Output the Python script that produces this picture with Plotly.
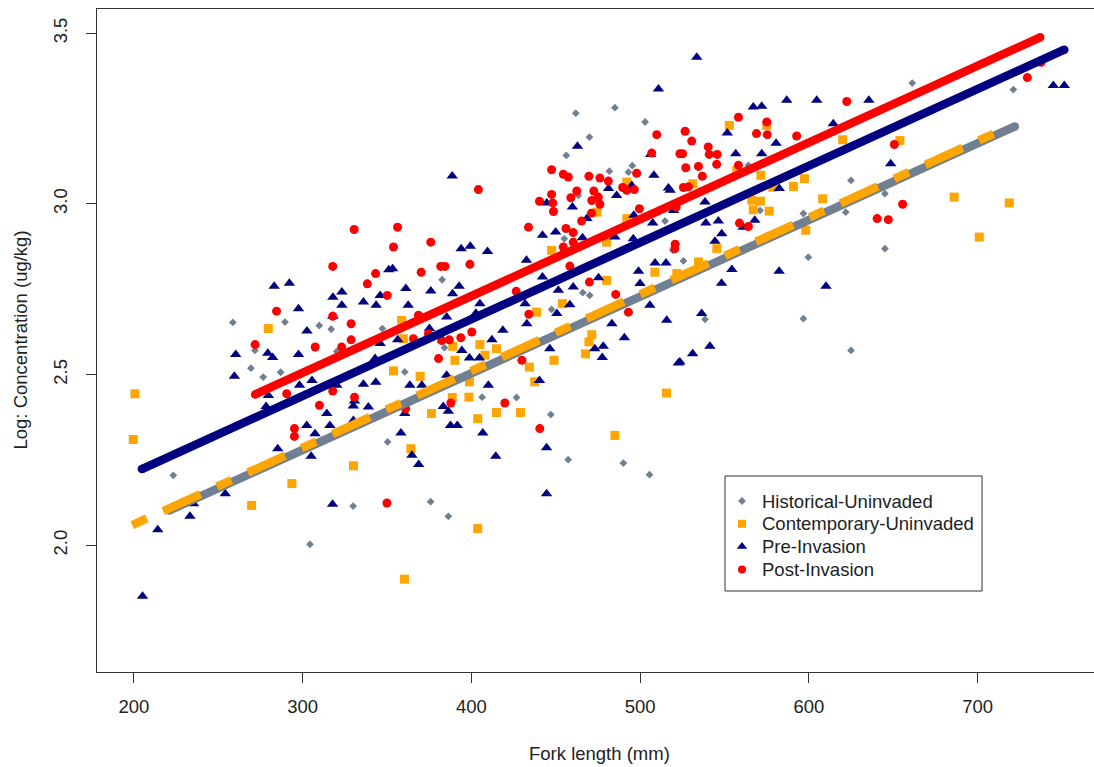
import plotly.graph_objects as go

# ---------------- data ----------------
hist_x = [258.6, 289.5, 309.8, 316.9, 271.7, 269.3, 276.6, 286.9, 320.2, 347.2, 350.3, 223.3, 304.3,
          329.9, 375.8, 386.3, 382.6, 384.0, 360.5, 406.3, 426.7, 447.5, 447.0, 457.3, 490.0, 505.5,
          470.1, 466.0, 461.8, 485.0, 469.9, 456.2, 502.9, 481.7, 493.0, 495.3, 463.3, 455.0, 514.7,
          661.2, 721.1, 624.9, 645.0, 621.8, 596.7, 571.0, 645.0, 564.1, 525.6, 599.6, 538.4, 596.7,
          624.9, 519.3]
hist_y = [2.653, 2.654, 2.644, 2.633, 2.571, 2.519, 2.493, 2.507, 2.568, 2.635, 2.303, 2.205, 2.003,
          2.115, 2.128, 2.085, 2.778, 2.579, 2.508, 2.434, 2.433, 2.691, 2.383, 2.251, 2.241, 2.207,
          2.732, 2.740, 3.266, 3.282, 3.196, 3.142, 3.240, 3.096, 3.093, 3.112, 3.025, 2.898, 2.950,
          3.354, 3.335, 3.069, 3.030, 2.976, 2.972, 2.981, 2.869, 3.113, 2.833, 2.844, 2.662, 2.664,
          2.571, 2.864]

cont_x = [200.6, 199.6, 279.6, 330.1, 293.6, 269.7, 403.7, 360.3, 358.6, 359.6, 353.8, 369.6, 388.9,
          390.2, 405.0, 408.0, 414.8, 398.5, 376.3, 403.7, 414.8, 429.0, 388.6, 364.1, 398.8, 434.3,
          448.9, 437.5, 438.6, 453.9, 471.3, 469.6, 467.6, 480.1, 508.7, 515.6, 485.0, 492.1, 474.3,
          492.1, 480.1, 447.5, 552.8, 575.0, 620.0, 653.9, 557.2, 571.5, 597.3, 578.5, 590.8, 566.1,
          571.3, 576.4, 567.0, 608.1, 686.0, 718.7, 700.9, 598.1, 545.4, 531.2, 534.5, 521.7]
cont_y = [2.444, 2.310, 2.635, 2.233, 2.181, 2.117, 2.049, 1.901, 2.659, 2.605, 2.511, 2.495, 2.583,
          2.542, 2.588, 2.557, 2.576, 2.434, 2.386, 2.371, 2.389, 2.389, 2.433, 2.283, 2.479, 2.522,
          2.542, 2.479, 2.683, 2.708, 2.617, 2.596, 2.561, 2.776, 2.800, 2.446, 2.322, 3.064, 2.976,
          2.957, 2.888, 2.864, 3.230, 3.230, 3.188, 3.186, 3.098, 3.084, 3.074, 3.049, 3.051, 3.011,
          3.008, 2.979, 2.983, 3.015, 3.020, 3.003, 2.903, 2.923, 2.869, 3.059, 2.830, 2.796]

pre_x = [283.1, 292.1, 297.5, 317.9, 323.2, 323.2, 336.0, 343.5, 345.9, 302.5, 317.9, 260.3, 259.5,
         279.3, 282.2, 297.5, 279.7, 278.3, 298.1, 305.5, 314.3, 302.4, 307.3, 285.2, 305.0, 316.1,
         330.0, 330.7, 330.0, 338.9, 343.3, 336.0, 320.2, 342.9, 345.9, 351.0, 214.1, 205.1, 233.2,
         235.3, 254.1, 317.7, 444.5, 393.9, 399.3, 409.5, 353.3, 361.1, 375.9, 388.8, 392.7, 362.5,
         385.3, 356.3, 375.1, 383.0, 394.3, 398.8, 404.7, 412.1, 418.6, 402.6, 405.0, 432.8, 431.8,
         450.6, 458.3, 460.3, 451.5, 446.4, 475.3, 499.0, 508.8, 515.3, 499.9, 505.7, 515.7, 483.2,
         490.6, 473.1, 478.1, 477.5, 522.6, 440.3, 363.5, 370.6, 385.3, 410.0, 383.3, 386.3, 360.5,
         387.6, 391.6, 406.7, 358.2, 364.7, 368.7, 414.4, 444.5, 432.6, 442.1, 510.8, 462.8, 388.6,
         444.6, 459.8, 468.4, 481.2, 495.0, 506.2, 508.1, 516.7, 496.2, 442.1, 449.9, 465.8, 485.0,
         495.9, 507.4, 519.7, 486.0, 533.5, 567.0, 572.0, 586.8, 604.6, 635.5, 614.4, 551.6, 580.5,
         556.6, 572.0, 648.4, 582.4, 538.4, 546.3, 538.9, 561.0, 567.9, 548.3, 544.3, 517.7, 744.8,
         751.3, 554.3, 582.3, 610.1, 548.2, 536.4, 541.3, 531.1, 523.5]
pre_y = [2.759, 2.768, 2.693, 2.727, 2.742, 2.703, 2.713, 2.703, 2.732, 2.628, 2.671, 2.559, 2.495,
         2.563, 2.550, 2.559, 2.439, 2.407, 2.469, 2.483, 2.386, 2.351, 2.327, 2.283, 2.261, 2.351,
         2.408, 2.423, 2.366, 2.405, 2.478, 2.472, 2.469, 2.547, 2.591, 2.807, 2.046, 1.851, 2.085,
         2.122, 2.151, 2.120, 2.151, 2.869, 2.876, 2.861, 2.810, 2.752, 2.745, 2.737, 2.759, 2.703,
         2.669, 2.602, 2.635, 2.600, 2.571, 2.549, 2.549, 2.602, 2.630, 2.680, 2.708, 2.649, 2.708,
         2.679, 2.705, 2.757, 2.747, 2.576, 2.784, 2.803, 2.827, 2.827, 2.767, 2.703, 2.659, 2.649,
         2.608, 2.576, 2.583, 2.550, 2.534, 2.483, 2.469, 2.469, 2.498, 2.469, 2.407, 2.393, 2.386,
         2.351, 2.351, 2.329, 2.329, 2.264, 2.237, 2.261, 2.286, 2.835, 2.786, 3.337, 3.169, 3.082,
         3.003, 2.991, 2.957, 3.045, 3.054, 3.145, 3.084, 3.047, 2.967, 2.908, 2.918, 2.901, 2.903,
         2.898, 2.944, 2.981, 3.025, 3.430, 3.284, 3.286, 3.304, 3.304, 3.304, 3.235, 3.208, 3.178,
         3.147, 3.147, 3.118, 3.045, 3.006, 2.950, 2.944, 2.932, 2.952, 2.913, 2.891, 3.040, 3.347,
         3.347, 2.808, 2.803, 2.759, 2.768, 2.679, 2.583, 2.561, 2.537]

post_x = [317.8, 343.2, 338.3, 350.1, 284.5, 317.8, 328.7, 328.7, 323.1, 307.4, 271.8, 290.5, 317.8,
          309.9, 330.7, 295.1, 295.1, 349.9, 404.1, 356.2, 375.9, 353.8, 433.8, 447.5, 454.4, 457.4,
          469.6, 476.1, 481.1, 497.9, 489.6, 492.0, 496.5, 509.8, 506.8, 523.5, 447.5, 462.4, 458.9,
          472.5, 475.2, 471.3, 476.1, 440.3, 448.2, 448.6, 471.1, 465.3, 499.5, 456.0, 460.3, 460.3,
          381.8, 384.3, 399.1, 370.2, 454.4, 458.3, 426.5, 469.9, 485.5, 368.6, 365.6, 374.5, 382.4,
          386.9, 393.7, 400.2, 380.5, 434.0, 429.9, 387.8, 419.8, 440.5, 493.0, 520.5, 361.0, 558.2,
          575.0, 526.6, 530.5, 568.9, 575.3, 592.7, 622.4, 525.1, 540.3, 540.9, 545.6, 545.3, 527.0,
          534.5, 536.8, 558.2, 525.6, 528.6, 521.3, 558.8, 564.1, 650.6, 655.5, 640.4, 647.0, 729.4,
          520.7, 330.5, 737.5]
post_y = [2.817, 2.796, 2.766, 2.732, 2.686, 2.671, 2.649, 2.602, 2.581, 2.581, 2.588, 2.444, 2.452,
          2.410, 2.434, 2.342, 2.319, 2.124, 3.042, 2.932, 2.888, 2.874, 2.932, 3.100, 3.087, 3.079,
          3.081, 3.076, 3.067, 3.090, 3.048, 3.040, 3.042, 3.203, 3.149, 3.147, 3.028, 3.038, 3.018,
          3.038, 3.020, 3.010, 2.999, 3.008, 3.003, 2.978, 2.973, 2.950, 2.986, 2.928, 2.916, 2.888,
          2.817, 2.817, 2.823, 2.800, 2.874, 2.818, 2.744, 2.771, 2.735, 2.674, 2.605, 2.620, 2.600,
          2.602, 2.608, 2.625, 2.547, 2.677, 2.542, 2.417, 2.417, 2.342, 2.683, 2.869, 2.400, 3.254,
          3.240, 3.213, 3.184, 3.206, 3.203, 3.199, 3.300, 3.147, 3.167, 3.145, 3.145, 3.116, 3.106,
          3.110, 3.081, 3.113, 3.048, 3.050, 2.991, 2.944, 2.934, 3.174, 2.999, 2.957, 2.954, 3.370,
          2.882, 2.925, 3.415]

group_names = ["Historical-Uninvaded", "Contemporary-Uninvaded", "Pre-Invasion", "Post-Invasion"]
group_colors = ["#708090", "#FFA500", "#000080", "#FF0000"]
group_symbols = ["diamond", "square", "triangle-up", "circle"]

# fitted regression lines (intercept, slope) and x extent of each fit
fit_intercept = [1.6061, 1.6123, 1.7634, 1.8309]
fit_slope = [0.002245, 0.002246, 0.0022475, 0.0022485]
fit_x_start = [221.0, 199.0, 204.7, 271.8]
fit_x_end = [722.0, 712.0, 751.3, 737.0]

x_ticks = [200, 300, 400, 500, 600, 700]
y_ticks = [2.0, 2.5, 3.0, 3.5]
y_tick_text = ["2.0", "2.5", "3.0", "3.5"]

# ---------------- figure ----------------
FONT = "Liberation Sans, Arial, sans-serif"
TXT = "#222222"
W, H = 1094, 767
ML, MR, MT, MB = 97, 0, 9, 95
fig = go.Figure()

xs = [hist_x, cont_x, pre_x, post_x]
ys = [hist_y, cont_y, pre_y, post_y]
msize = [6, 9, 10, 9]
for i in range(4):
    fig.add_trace(go.Scatter(
        x=xs[i], y=ys[i], mode="markers", name=group_names[i], showlegend=False,
        marker=dict(color=group_colors[i], symbol=group_symbols[i], size=msize[i],
                    line=dict(width=0)),
    ))

dashes = ["solid", "16px,18px,41px,18px", "solid", "solid"]
for i in range(4):
    lx = [fit_x_start[i], fit_x_end[i]]
    ly = [fit_intercept[i] + fit_slope[i] * v for v in lx]
    if dashes[i] == "solid":
        fig.add_trace(go.Scatter(
            x=lx, y=ly, mode="lines+markers", showlegend=False, hoverinfo="skip",
            line=dict(color=group_colors[i], width=8.5),
            marker=dict(color=group_colors[i], size=8.5, symbol="circle", line=dict(width=0)),
        ))
    else:
        fig.add_trace(go.Scatter(
            x=lx, y=ly, mode="lines", showlegend=False, hoverinfo="skip",
            line=dict(color=group_colors[i], width=8.5, dash=dashes[i]),
        ))

# ---- legend drawn on a pixel-scaled overlay axis (R-style legend box) ----
LEG_BOX = (725, 476, 982, 591)      # left, top, right, bottom (px)
LEG_MARK_X, LEG_TEXT_X = 742, 760
LEG_ROW0, LEG_ROW_STEP = 501, 22.8
leg_msize = [6, 8, 9, 8]
for i in range(4):
    ry = LEG_ROW0 + i * LEG_ROW_STEP
    fig.add_trace(go.Scatter(
        x=[LEG_MARK_X], y=[ry], xaxis="x2", yaxis="y2", mode="markers",
        showlegend=False, hoverinfo="skip",
        marker=dict(color=group_colors[i], symbol=group_symbols[i], size=leg_msize[i],
                    line=dict(width=0)),
    ))

annotations = []
for i in range(4):
    ry = LEG_ROW0 + i * LEG_ROW_STEP
    annotations.append(dict(text=group_names[i], xref="x2", yref="y2", x=LEG_TEXT_X, y=ry,
                            xanchor="left", yanchor="middle", showarrow=False,
                            font=dict(family=FONT, size=18.5, color=TXT)))
annotations += [
    dict(text="Fork length (mm)", xref="paper", yref="paper",
         x=(599.5 - ML) / (W - ML - MR), y=(H - MB - 753) / (H - MT - MB),
         xanchor="center", yanchor="middle", showarrow=False,
         font=dict(family=FONT, size=18.5, color=TXT)),
    dict(text="Log: Concentration (ug/kg)", xref="paper", yref="paper",
         x=(20 - ML) / (W - ML - MR), y=0.5, xanchor="center", yanchor="middle", textangle=-90,
         showarrow=False, font=dict(family=FONT, size=18.5, color=TXT)),
]

shapes = [dict(type="rect", xref="x2", yref="y2", x0=LEG_BOX[0], y0=LEG_BOX[1],
               x1=LEG_BOX[2], y1=LEG_BOX[3], line=dict(color="#333333", width=1),
               fillcolor="white", layer="below")]

axis_common = dict(
    showgrid=False, zeroline=False, showline=True, linecolor="#333333", linewidth=1,
    ticks="outside", ticklen=10, tickwidth=1, tickcolor="#333333",
    tickfont=dict(family=FONT, size=18.5, color=TXT),
)

fig.update_layout(
    width=W, height=H,
    margin=dict(l=ML, r=MR, t=MT, b=MB),
    paper_bgcolor="white", plot_bgcolor="white",
    font=dict(family=FONT, size=18.5, color=TXT),
    xaxis=dict(range=[178.1, 768.9], tickvals=x_ticks, mirror=True,
               ticklabelstandoff=8, **axis_common),
    yaxis=dict(range=[1.629, 3.571], tickvals=y_ticks, ticktext=y_tick_text,
               tickangle=-90, ticklabelstandoff=12, **axis_common),
    xaxis2=dict(overlaying="x", range=[ML, W - MR], visible=False, showgrid=False, zeroline=False),
    yaxis2=dict(overlaying="y", range=[H - MB, MT], visible=False, showgrid=False, zeroline=False),
    showlegend=False,
    annotations=annotations,
    shapes=shapes,
)

fig.write_html("out.html")
